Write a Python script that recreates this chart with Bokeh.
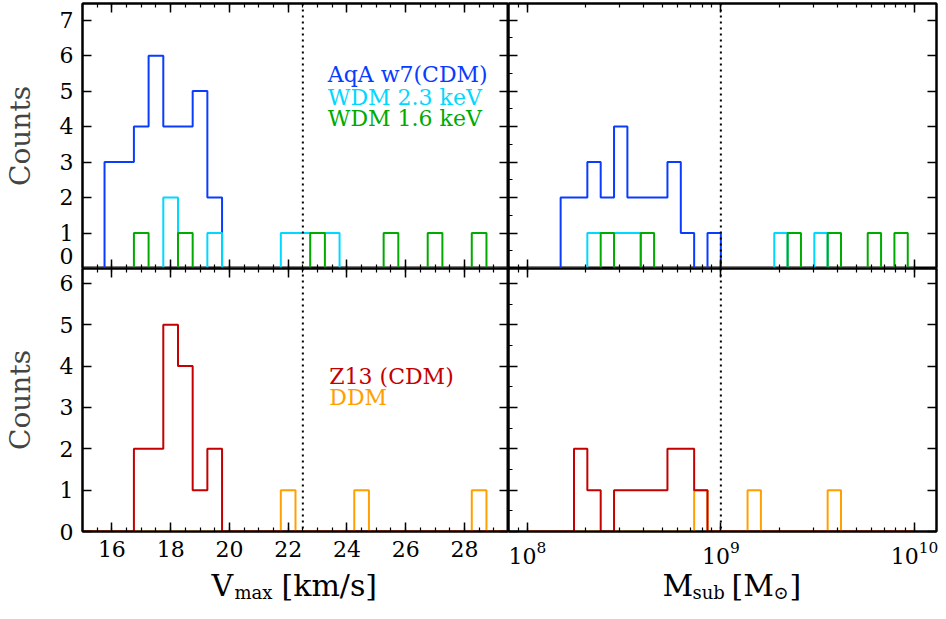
import numpy as np
from bokeh.plotting import figure
from bokeh.layouts import gridplot
from bokeh.models import (Range1d, LinearAxis, LogAxis, SingleIntervalTicker,
                          FixedTicker, LogTicker, Span, Label)
from bokeh.embed import file_html
from bokeh.resources import INLINE

# ---------------- data ----------------
# Vmax bin centres [km/s]
vmax_centres = [15.0, 15.5, 16.0, 16.5, 17.0, 17.5, 18.0, 18.5, 19.0, 19.5,
                20.0, 20.5, 21.0, 21.5, 22.0, 22.5, 23.0, 23.5, 24.0, 24.5,
                25.0, 25.5, 26.0, 26.5, 27.0, 27.5, 28.0, 28.5, 29.0, 29.5]
# log10(Msub) bin centres: 30 bins from 1e8 to 1e10
logm_centres = np.linspace(8.0, 10.0, 30)
msub_centres = list(10.0 ** logm_centres)

# counts per Vmax bin
aqa_cdm_v = [0, 0, 3, 3, 4, 6, 4, 4, 5, 2, 0, 0, 0, 0, 0, 0, 0, 0, 0, 0,
             0, 0, 0, 0, 0, 0, 0, 0, 0, 0]
wdm23_v   = [0, 0, 0, 0, 0, 0, 2, 0, 0, 1, 0, 0, 0, 0, 1, 1, 1, 1, 0, 0,
             0, 0, 0, 0, 0, 0, 0, 0, 0, 0]
wdm16_v   = [0, 0, 0, 0, 1, 0, 0, 1, 0, 0, 0, 0, 0, 0, 0, 0, 1, 0, 0, 0,
             0, 1, 0, 0, 1, 0, 0, 1, 0, 0]
z13_cdm_v = [0, 0, 0, 0, 2, 2, 5, 4, 1, 2, 0, 0, 0, 0, 0, 0, 0, 0, 0, 0,
             0, 0, 0, 0, 0, 0, 0, 0, 0, 0]
ddm_v     = [0, 0, 0, 0, 0, 0, 0, 0, 0, 0, 0, 0, 0, 0, 1, 0, 0, 0, 0, 1,
             0, 0, 0, 0, 0, 0, 0, 1, 0, 0]

# counts per Msub bin
aqa_cdm_m = [0, 0, 0, 2, 2, 3, 2, 4, 2, 2, 2, 3, 1, 0, 1, 0, 0, 0, 0, 0,
             0, 0, 0, 0, 0, 0, 0, 0, 0, 0]
wdm23_m   = [0, 0, 0, 0, 0, 1, 1, 1, 1, 0, 0, 0, 0, 0, 0, 0, 0, 0, 0, 1,
             0, 0, 1, 0, 0, 0, 0, 0, 0, 0]
wdm16_m   = [0, 0, 0, 0, 0, 0, 1, 0, 0, 1, 0, 0, 0, 0, 0, 0, 0, 0, 0, 0,
             1, 0, 0, 1, 0, 0, 1, 0, 1, 0]
z13_cdm_m = [0, 0, 0, 0, 2, 1, 0, 1, 1, 1, 1, 2, 2, 1, 0, 0, 0, 0, 0, 0,
             0, 0, 0, 0, 0, 0, 0, 0, 0, 0]
ddm_m     = [0, 0, 0, 0, 0, 0, 0, 0, 0, 0, 0, 0, 0, 1, 0, 0, 0, 1, 0, 0,
             0, 0, 0, 1, 0, 0, 0, 0, 0, 0]

top_count_ticks = [0, 1, 2, 3, 4, 5, 6, 7]
bottom_count_ticks = [0, 1, 2, 3, 4, 5, 6]

vmax_cut = 22.5
msub_cut = 1e9

# ---------------- style ----------------
SERIF = "DejaVu Serif"
BLUE, CYAN, GREEN = "#0a3cff", "#00d8ff", "#00aa00"
RED, ORANGE = "#c40000", "#ffa000"

LW, RW = 428, 428          # frame widths
TH, BH = 265, 263          # frame heights
BL, BR, BT, BB = 80, 2, 3, 36
TITLE_H = 38


def style_axis(ax, labels, minor):
    ax.axis_line_width = 2
    ax.major_tick_in = 9
    ax.major_tick_out = 0
    ax.major_tick_line_width = 1.5
    ax.minor_tick_out = 0
    if minor:
        ax.minor_tick_in = 4
        ax.minor_tick_line_width = 1.2
    else:
        ax.minor_tick_line_color = None
    if labels:
        ax.major_label_text_font = SERIF
        ax.major_label_text_font_size = "22px"
        ax.major_label_text_color = "black"
        ax.major_label_standoff = 9
    else:
        ax.major_label_text_color = None
        ax.major_label_text_font_size = "1px"
        ax.major_label_standoff = 0


def panel(xr, yr, log_x, is_left, is_bottom):
    w = (BL + LW) if is_left else (RW + BR)
    h = (TH + BT) if not is_bottom else (BH + BB)
    p = figure(width=w, height=h,
               x_range=Range1d(*xr), y_range=Range1d(*yr),
               x_axis_type="log" if log_x else "linear",
               output_backend="svg", toolbar_location=None,
               min_border_left=BL if is_left else 0,
               min_border_right=0 if is_left else BR,
               min_border_top=0 if is_bottom else BT,
               min_border_bottom=BB if is_bottom else 0)
    p.grid.visible = False
    p.outline_line_color = "black"
    p.outline_line_width = 2
    p.background_fill_color = "white"
    p.border_fill_color = "white"

    xt = LogTicker(num_minor_ticks=10) if log_x else SingleIntervalTicker(interval=2, num_minor_ticks=4)
    yt = SingleIntervalTicker(interval=1, num_minor_ticks=2)

    bx = p.xaxis[0]
    bx.ticker = xt
    style_axis(bx, is_bottom, True)
    ly = p.yaxis[0]
    if is_left:
        ly.ticker = FixedTicker(ticks=bottom_count_ticks if is_bottom else top_count_ticks)
        if not is_bottom:
            # lift the "0" label of the upper panel above the panel seam
            ly.major_label_overrides = {0: "\n0"}
    else:
        ly.ticker = yt
    style_axis(ly, is_left, not is_left)
    if is_left:
        ly.axis_label = "Counts"
        ly.axis_label_text_font = SERIF
        ly.axis_label_text_font_size = "28px"
        ly.axis_label_text_font_style = "normal"
        ly.axis_label_standoff = 20

    top = LogAxis(ticker=xt) if log_x else LinearAxis(ticker=xt)
    style_axis(top, False, True)
    p.add_layout(top, "above")
    right = LinearAxis(ticker=yt)
    style_axis(right, False, False)
    p.add_layout(right, "right")
    return p


def title_strip(x_range, log_x, is_left):
    w = (BL + LW) if is_left else (RW + BR)
    p = figure(width=w, height=TITLE_H, x_range=x_range, y_range=Range1d(0, TITLE_H),
               x_axis_type="log" if log_x else "linear",
               x_axis_location=None, y_axis_location=None,
               output_backend="svg", toolbar_location=None,
               min_border_left=BL if is_left else 0,
               min_border_right=0 if is_left else BR,
               min_border_top=0, min_border_bottom=0)
    p.grid.visible = False
    p.outline_line_color = None
    return p


def hist(p, x, counts, color):
    p.step(x, counts, mode="center", line_color=color, line_width=2)


def legend(p, x, y, text, color):
    p.add_layout(Label(x=x, y=y, text=text, text_color=color, text_font=SERIF,
                       text_font_size="22px", text_baseline="alphabetic"))


VX = (15.0, 29.5)
MX = (8e7, 1.3e10)

tl = panel(VX, (0, 7.47), False, True, False)
tr = panel(MX, (0, 7.47), True, False, False)
bl = panel(VX, (0, 6.36), False, True, True)
br = panel(MX, (0, 6.36), True, False, True)
sl = title_strip(bl.x_range, False, True)
sr = title_strip(br.x_range, True, False)

for p in (tl, bl):
    p.add_layout(Span(location=vmax_cut, dimension="height", line_color="black",
                      line_dash="2 4", line_width=2))
for p in (tr, br):
    p.add_layout(Span(location=msub_cut, dimension="height", line_color="black",
                      line_dash="2 4", line_width=2))

hist(tl, vmax_centres, aqa_cdm_v, BLUE)
hist(tl, vmax_centres, wdm23_v, CYAN)
hist(tl, vmax_centres, wdm16_v, GREEN)
hist(tr, msub_centres, aqa_cdm_m, BLUE)
hist(tr, msub_centres, wdm23_m, CYAN)
hist(tr, msub_centres, wdm16_m, GREEN)
hist(bl, vmax_centres, ddm_v, ORANGE)
hist(bl, vmax_centres, z13_cdm_v, RED)
hist(br, msub_centres, ddm_m, ORANGE)
hist(br, msub_centres, z13_cdm_m, RED)

legend(tl, 23.35, 5.48, "AqA w7(CDM)", BLUE)
legend(tl, 23.35, 4.82, "WDM 2.3 keV", CYAN)
legend(tl, 23.35, 4.22, "WDM 1.6 keV", GREEN)
legend(bl, 23.4, 3.76, "Z13 (CDM)", RED)
legend(bl, 23.4, 3.24, "DDM", ORANGE)


def title_part(p, x, off, y, text, size):
    p.add_layout(Label(x=x, y=y, x_offset=off, text=text,
                       text_font=SERIF, text_font_size=size, text_color="black",
                       text_align="left", text_baseline="alphabetic"))


BASE_Y, SUB_Y = 20, 13
vc = 0.5 * (VX[0] + VX[1])
title_part(sl, vc, -84, BASE_Y, "V", "30px")
title_part(sl, vc, -61, SUB_Y, "max", "18px")
title_part(sl, vc, -14, BASE_Y, "[km/s]", "30px")

mc = float(10 ** (0.5 * (np.log10(MX[0]) + np.log10(MX[1]))))
title_part(sr, mc, -60, BASE_Y, "M", "30px")
title_part(sr, mc, -30, SUB_Y, "sub", "18px")
title_part(sr, mc, 9, BASE_Y, "[M", "30px")
title_part(sr, mc, 51, SUB_Y, "\u2299", "18px")
title_part(sr, mc, 67, BASE_Y, "]", "30px")

grid = gridplot([[tl, tr], [bl, br], [sl, sr]], toolbar_location=None)

with open("out.html", "w") as f:
    f.write(file_html(grid, INLINE))
